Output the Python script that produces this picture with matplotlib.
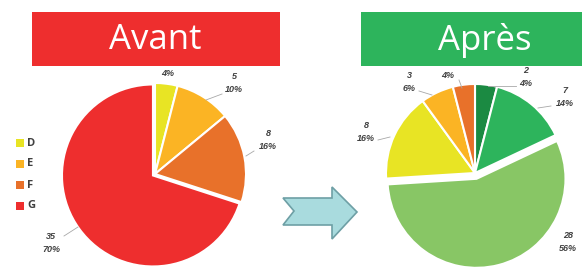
"""Avant / Après pie comparison (D, E, F, G categories)."""

import matplotlib.pyplot as plt
from matplotlib.patches import Polygon, Rectangle

# --- data --------------------------------------------------------------------
before_labels = ["D", "E", "F", "G"]
before_values = [2, 5, 8, 35]
before_colors = ["#e8e424", "#fbb424", "#e8712a", "#ee2e2e"]

after_labels = ["D+", "C", "B", "D", "E", "F"]
after_values = [2, 7, 28, 8, 3, 2]
after_colors = ["#1b8a42", "#2db45c", "#88c665", "#e8e424", "#fbb424", "#e8712a"]

W, H = 582, 268


def Y(y):
    """image row -> axes y (axes run bottom-up)."""
    return H - y


fig = plt.figure(figsize=(W / 100, H / 100), dpi=100)
ax = fig.add_axes([0, 0, 1, 1])

# --- title bars ----------------------------------------------------------------
ax.add_patch(Rectangle((32, Y(66)), 248, 54, color="#ee2e2e", lw=0))
ax.add_patch(Rectangle((361, Y(66)), 230, 54, color="#2db45c", lw=0))
ax.text(155, Y(40), "Avant", color="white", fontsize=25, family="Open Sans",
        ha="center", va="center")
ax.text(485, Y(40), "Après", color="white", fontsize=25, family="Open Sans",
        ha="center", va="center")

# --- pies ----------------------------------------------------------------------
# explode is in data units here (pixel-sized axes), not a radius fraction
wedge = dict(edgecolor="white", linewidth=1.5)
ax.pie(before_values, colors=before_colors, center=(155, Y(174)), radius=91,
       startangle=90, counterclock=False, explode=[0, 0, 0, 2.5],
       wedgeprops=wedge, frame=True)
ax.pie(after_values, colors=after_colors, center=(475, Y(173)), radius=89,
       startangle=90, counterclock=False, explode=[0, 0, 6, 0, 0, 0],
       wedgeprops=wedge, frame=True)

# --- data labels -----------------------------------------------------------------
lab = dict(fontsize=6.5, family="Liberation Sans", style="italic",
           weight="bold", color="#404040", ha="center", va="center",
           linespacing=1.5)
lead = dict(color="#a8a8a8", lw=0.6)


def label(values, i, x, y, line=None, count=True):
    total = sum(values)
    pct = f"{round(100 * values[i] / total)}%"
    txt = f"{values[i]}\n{pct}" if count else pct
    ax.text(x, Y(y), txt, **lab)
    if line:
        (x0, y0), (x1, y1) = line
        ax.plot([x0, x1], [Y(y0), Y(y1)], **lead)


label(before_values, 0, 168, 74, count=False)
label(before_values, 1, 234, 83, line=((222, 94), (206, 100)))
label(before_values, 2, 268, 140, line=((254, 151), (246, 156)))
label(before_values, 3, 51, 243, line=((64, 236), (78, 227)))

label(after_values, 0, 526, 77, line=((516, 86), (488, 86)))
label(after_values, 1, 565, 97, line=((551, 106), (538, 108)))
label(after_values, 2, 568, 242)
label(after_values, 3, 366, 132, line=((378, 140), (390, 137)))
label(after_values, 4, 409, 82, line=((419, 91), (432, 95)))
label(after_values, 5, 448, 76, count=False, line=((459, 80), (462, 88)))

# --- legend ----------------------------------------------------------------------
for k, (name, col) in enumerate(zip(before_labels, before_colors)):
    yy = 143 + 21 * k
    ax.add_patch(Rectangle((16, Y(yy + 4)), 8, 8, color=col, lw=0))
    ax.text(27, Y(yy), name, fontsize=8, family="Open Sans", weight="bold",
            color="#404040", ha="left", va="center")

# --- arrow -----------------------------------------------------------------------
arrow = [(283, 198), (332, 198), (332, 187), (357, 212), (332, 239),
         (332, 225), (283, 225), (294, 211)]
ax.add_patch(Polygon([(x, Y(y)) for x, y in arrow], closed=True,
                     facecolor="#a9dbde", edgecolor="#6e9fa5", lw=1.2))

ax.set_xlim(0, W)
ax.set_ylim(0, H)
ax.set_aspect("auto")
ax.axis("off")

fig.savefig("out.png", dpi=100, facecolor="white")
